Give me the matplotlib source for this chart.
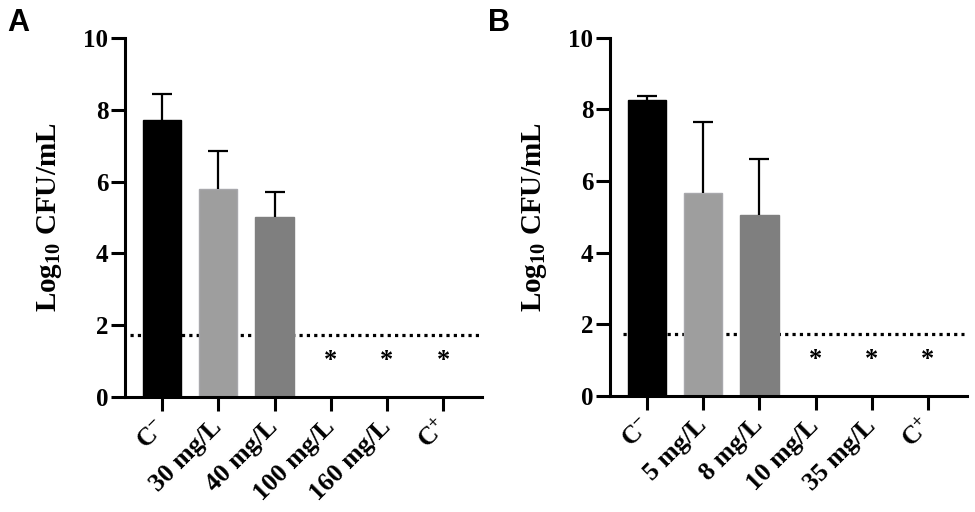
import matplotlib
matplotlib.use("Agg")
import matplotlib.pyplot as plt
import numpy as np

# ---- data ----
cats_a = ["C$^{-}$", "30 mg/L", "40 mg/L", "100 mg/L", "160 mg/L", "C$^{+}$"]
vals_a = [7.72, 5.80, 5.02, 0, 0, 0]
err_a = [0.71, 1.05, 0.70, 0, 0, 0]

cats_b = ["C$^{-}$", "5 mg/L", "8 mg/L", "10 mg/L", "35 mg/L", "C$^{+}$"]
vals_b = [8.26, 5.66, 5.06, 0, 0, 0]
err_b = [0.11, 1.98, 1.55, 0, 0, 0]

star_idx = [3, 4, 5]
star_y = 1.01
detection_limit = 1.72
yticks = [0, 2, 4, 6, 8, 10]
bar_colors = ["#000000", "#9e9e9e", "#7f7f7f", "white", "white", "white"]
edge_colors = ["#000000", "#a8a8ac", "#7f7f7f", "white", "white", "white"]

plt.rcParams['font.family'] = ['Liberation Serif', 'DejaVu Serif']
plt.rcParams['font.weight'] = 'bold'
plt.rcParams['mathtext.fontset'] = 'custom'
plt.rcParams['mathtext.rm'] = 'Liberation Serif:bold'
plt.rcParams['mathtext.bf'] = 'Liberation Serif:bold'
plt.rcParams['mathtext.it'] = 'Liberation Serif:bold'
plt.rcParams['mathtext.default'] = 'rm'

fig = plt.figure(figsize=(9.75, 5.12), dpi=100)
ax_a = fig.add_axes([0.1282, 0.2246, 0.3662, 0.7012])
ax_b = fig.add_axes([0.6256, 0.2271, 0.3659, 0.6993])


def draw(ax, cats, vals, errs, xline):
    x = np.arange(len(cats))
    ax.plot(xline, [detection_limit, detection_limit], color='black', lw=2.3,
            linestyle=(0, (1, 1.3)), zorder=1)
    ax.bar(x, vals, width=0.68, color=bar_colors, edgecolor=edge_colors,
           linewidth=1.0, zorder=2)
    for i in range(3):
        eb = ax.errorbar(x[i], vals[i], yerr=[[0], [errs[i]]], fmt='none',
                         ecolor='black', elinewidth=1.6, capsize=7, capthick=1.6,
                         zorder=3)
        caps = eb[1]
        if len(caps) > 1:
            caps[0].set_visible(False)
    for i in star_idx:
        ax.text(x[i], star_y, "*", ha='center', va='center', fontsize=19,
                fontweight='bold')
    ax.set_ylim(0, 10)
    ax.set_xlim(-0.66, 5.69)
    ax.set_yticks(yticks)
    ax.set_yticklabels([str(t) for t in yticks], fontsize=18, fontweight='bold')
    ax.set_xticks(x)
    ax.set_xticklabels(cats, rotation=45, ha='right', va='center',
                       rotation_mode='anchor', fontsize=18.5, fontweight='bold')
    for s in ['top', 'right']:
        ax.spines[s].set_visible(False)
    for s in ['left', 'bottom']:
        ax.spines[s].set_linewidth(2.2)
    ax.tick_params(axis='both', length=10, width=2.2, pad=2)
    ax.tick_params(axis='x', pad=9)
    ax.set_ylabel("Log$_{10}$ CFU/mL", fontsize=21, fontweight='bold', labelpad=14)


draw(ax_a, cats_a, vals_a, err_a, [-0.57, 5.63])
draw(ax_b, cats_b, vals_b, err_b, [-0.42, 5.64])

fig.text(0.007, 0.985, "A", fontsize=22, fontweight='bold', family='Liberation Sans',
         ha='left', va='top')
fig.text(0.500, 0.985, "B", fontsize=22, fontweight='bold', family='Liberation Sans',
         ha='left', va='top')

fig.savefig("out.png", dpi=100)
